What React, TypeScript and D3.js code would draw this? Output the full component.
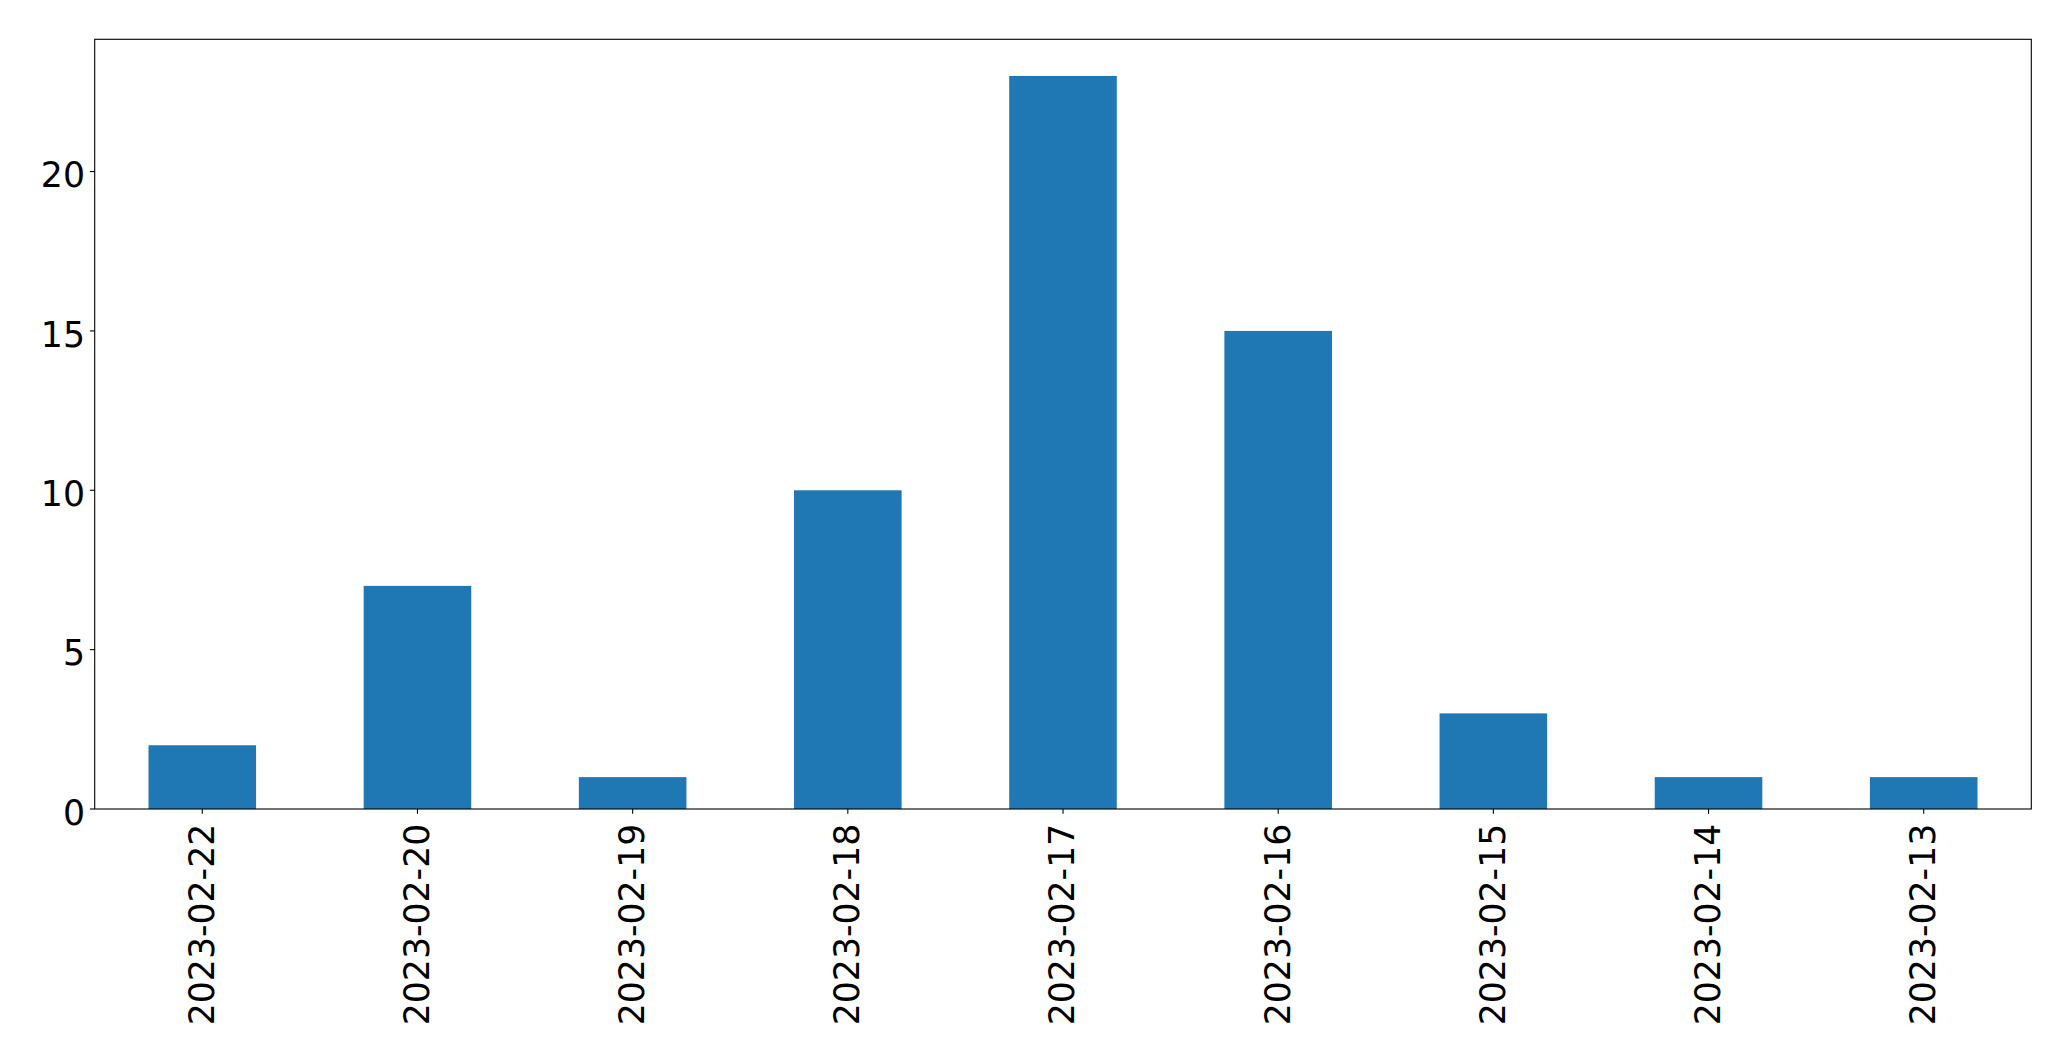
import React from "react";
import * as d3 from "d3";

const categories = ["2023-02-22", "2023-02-20", "2023-02-19", "2023-02-18", "2023-02-17", "2023-02-16", "2023-02-15", "2023-02-14", "2023-02-13"];
const values = [2, 7, 1, 10, 23, 15, 3, 1, 1];
const yTicks = [0, 5, 10, 15, 20];

const W = 2071;
const H = 1061;
const left = 94.7;
const right = 2031.3;
const top = 39.3;
const bottom = 809;
const fontSize = 34.7;
const tickLen = 4.86;
const pad = 4.86;

export default function App() {
  const x = d3.scaleLinear().domain([-0.5, categories.length - 0.5]).range([left, right]);
  const yMax = d3.max(values)! * 1.05;
  const y = d3.scaleLinear().domain([0, yMax]).range([bottom, top]);
  const barW = x(0.5) - x(0);

  return (
    <svg width={W} height={H} style={{ position: "absolute", left: 0, top: 0, background: "#fff" }}
      fontFamily="DejaVu Sans" fontSize={fontSize}>
      <rect x={0} y={0} width={W} height={H} fill="#fff" />
      {values.map((v, i) => (
        <rect key={i} x={x(i) - barW / 2} y={y(v)} width={barW} height={y(0) - y(v)} fill="#1f77b4" />
      ))}
      <rect x={left} y={top} width={right - left} height={bottom - top} fill="none" stroke="#000" strokeWidth={1.1} />
      {yTicks.map((t) => (
        <g key={t}>
          <line x1={left - tickLen} x2={left} y1={y(t)} y2={y(t)} stroke="#000" strokeWidth={1.1} />
          <text x={left - tickLen - pad} y={y(t)} dy="0.45em" textAnchor="end" fill="#000">{t}</text>
        </g>
      ))}
      {categories.map((c, i) => (
        <g key={c}>
          <line x1={x(i)} x2={x(i)} y1={bottom} y2={bottom + tickLen} stroke="#000" strokeWidth={1.1} />
          <text transform={`translate(${x(i)},${bottom + tickLen + pad + 5}) rotate(-90)`} dy="0.33em" textAnchor="end" fill="#000">{c}</text>
        </g>
      ))}
    </svg>
  );
}
